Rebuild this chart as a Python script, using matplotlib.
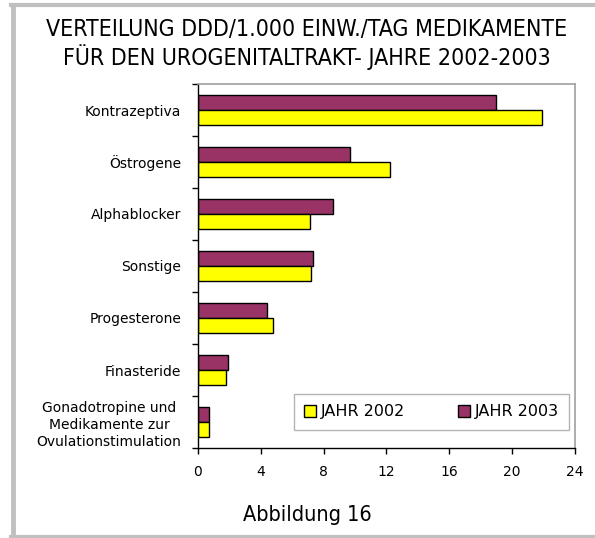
import numpy as np
import matplotlib
matplotlib.use("Agg")
import matplotlib.pyplot as plt
from matplotlib.lines import Line2D

categories = ["Kontrazeptiva", "Östrogene", "Alphablocker", "Sonstige",
              "Progesterone", "Finasteride",
              "Gonadotropine und\nMedikamente zur\nOvulationstimulation"]
jahr_2002 = [21.9, 12.2, 7.1, 7.2, 4.75, 1.8, 0.72]
jahr_2003 = [19.0, 9.7, 8.6, 7.3, 4.4, 1.9, 0.72]
xticks = [0, 4, 8, 12, 16, 20, 24]

W, H = 595, 538


def main():
    fig = plt.figure(figsize=(W / 100, H / 100), dpi=100)
    fig.patch.set_facecolor("white")

    # grey frame (left, top, bottom)
    grey = "#c0c0c0"
    fig.add_artist(Line2D([12.5 / W, 12.5 / W], [1 - 4.5 / H, 1 - 536.5 / H],
                          color=grey, lw=3.5, transform=fig.transFigure))
    fig.add_artist(Line2D([11 / W, 1.0], [1 - 4.5 / H, 1 - 4.5 / H],
                          color=grey, lw=3, transform=fig.transFigure))
    fig.add_artist(Line2D([11 / W, 1.0], [1 - 536.5 / H, 1 - 536.5 / H],
                          color=grey, lw=3, transform=fig.transFigure))

    left, right, top, bottom = 198, 575, 84, 448
    ax = fig.add_axes([left / W, 1 - bottom / H, (right - left) / W, (bottom - top) / H])

    n = len(categories)
    y = np.arange(n)
    h = 0.28
    ax.barh(y - h / 2, jahr_2003, height=h, color="#993366", edgecolor="black",
            linewidth=1.0, label="JAHR 2003")
    ax.barh(y + h / 2, jahr_2002, height=h, color="#ffff00", edgecolor="black",
            linewidth=1.0, label="JAHR 2002")

    ax.set_ylim(n - 0.5, -0.5)
    ax.set_xlim(0, 24)
    ax.set_xticks(xticks)
    ax.set_xticklabels([str(t) for t in xticks], fontsize=10)
    ax.set_yticks(y)
    ax.set_yticklabels(categories, fontsize=10, linespacing=1.3,
                       multialignment="center")
    ax.set_yticks(np.arange(n + 1) - 0.5, minor=True)
    ax.tick_params(axis="y", which="major", length=0, pad=12)
    ax.tick_params(axis="y", which="minor", length=4, direction="out", width=1)
    ax.tick_params(axis="x", length=4, direction="out", width=1, pad=8)

    for s in ["top", "right"]:
        ax.spines[s].set_color("#a0a0a0")
        ax.spines[s].set_linewidth(1.2)
    for s in ["left", "bottom"]:
        ax.spines[s].set_color("black")
        ax.spines[s].set_linewidth(1.0)

    handles, labels = ax.get_legend_handles_labels()
    leg = ax.legend(handles[::-1], labels[::-1], ncol=2, loc="lower right",
                    bbox_to_anchor=(0.984, 0.05), borderaxespad=0,
                    fontsize=11.5, frameon=True,
                    fancybox=False, edgecolor="#a0a0a0", handlelength=0.75,
                    handleheight=0.75, columnspacing=3.3, borderpad=0.65,
                    handletextpad=0.3)
    leg.get_frame().set_linewidth(1.0)

    fig.text(307 / W, 1 - 29 / H, "VERTEILUNG DDD/1.000 EINW./TAG MEDIKAMENTE",
             ha="center", va="center", fontsize=16.6, fontstretch="condensed")
    fig.text(307 / W, 1 - 57 / H, "FÜR DEN UROGENITALTRAKT- JAHRE 2002-2003",
             ha="center", va="center", fontsize=16.6, fontstretch="condensed")
    fig.text(307 / W, 1 - 515 / H, "Abbildung 16", ha="center", va="center",
             fontsize=15.5, fontstretch="condensed")

    fig.savefig("out.png", dpi=100)


if __name__ == "__main__":
    main()
